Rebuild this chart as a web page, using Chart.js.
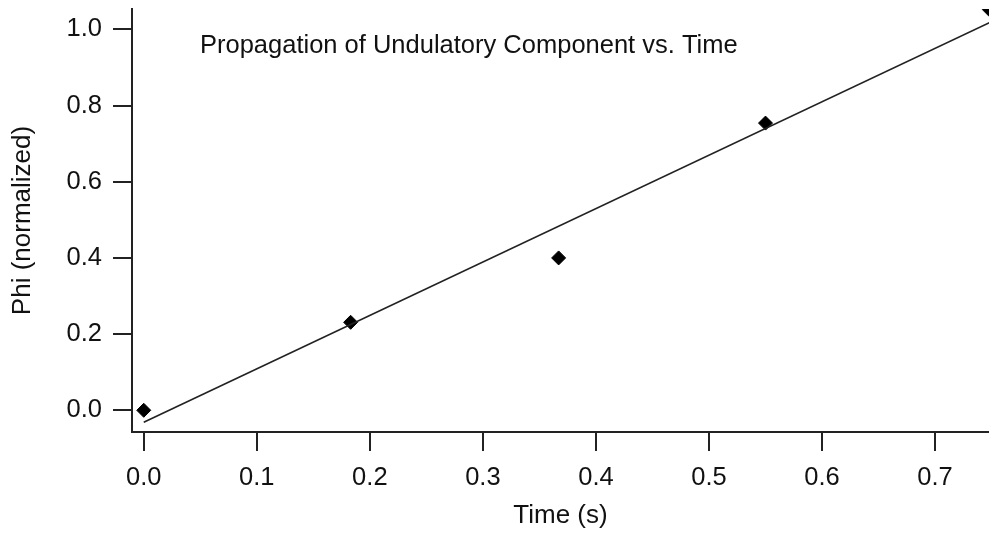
<!DOCTYPE html>
<html>
<head>
<meta charset="utf-8">
<script src="https://cdn.jsdelivr.net/npm/chart.js@4"></script>
<style>
    body { margin: 0; background: #fff; }
    #wrap { width: 989px; height: 533px; }
</style>
</head>
<body>
<div id="wrap"><canvas id="phiChart" width="989" height="533"></canvas></div>
<script>
// measured points (time in s, phi normalized)
const timeValues = [0, 0.183, 0.367, 0.55, 0.748];
const phiValues = [0, 0.231, 0.4, 0.754, 1.052];

// linear fit line, end points
const fitTime = [0, 0.75];
const fitPhi = [-0.0315, 1.02];

const xTicks = [0, 0.1, 0.2, 0.3, 0.4, 0.5, 0.6, 0.7];
const yTicks = [0, 0.2, 0.4, 0.6, 0.8, 1.0];

const plotTitle = 'Propagation of Undulatory Component vs. Time';
const fontFamily = '"Liberation Sans", Arial, sans-serif';
const ink = '#111';

// caption drawn inside the plot area
const captionPlugin = {
    id: 'caption',
    afterDraw(chart) {
        const { ctx, chartArea } = chart;
        ctx.save();
        ctx.font = '25.5px ' + fontFamily;
        ctx.fillStyle = ink;
        ctx.textAlign = 'left';
        ctx.textBaseline = 'alphabetic';
        ctx.fillText(plotTitle, chartArea.left + 68, chartArea.top + 44);
        ctx.restore();
    },
};

const ctx = document.querySelector('#phiChart');
new Chart(ctx, {
    type: 'scatter',
    data: {
        datasets: [
            {
                label: 'fit',
                data: fitTime.map((t, i) => ({ x: t, y: fitPhi[i] })),
                showLine: true,
                borderColor: '#222',
                borderWidth: 1.6,
                pointRadius: 0,
                fill: false,
            },
            {
                label: 'Phi',
                data: timeValues.map((t, i) => ({ x: t, y: phiValues[i] })),
                pointStyle: 'rectRot',
                pointRadius: 7,
                backgroundColor: '#000',
                borderColor: '#000',
                borderWidth: 1,
            },
        ],
    },
    options: {
        responsive: false,
        animation: false,
        layout: { autoPadding: false, padding: { top: 9, right: 0, bottom: 0, left: 0 } },
        plugins: {
            legend: { display: false },
            tooltip: { enabled: false },
        },
        scales: {
            x: {
                type: 'linear',
                min: -0.0104,
                max: 0.7477,
                afterBuildTicks: scale => {
                    scale.ticks = xTicks.map(v => ({ value: v }));
                },
                afterFit: scale => {
                    scale.height = 101;
                    scale.paddingLeft = 0;
                    scale.paddingRight = 0;
                },
                grid: { drawOnChartArea: false, drawTicks: true, tickLength: 19, color: '#222', lineWidth: 2 },
                border: { display: true, color: '#222', width: 2 },
                ticks: {
                    color: ink,
                    padding: 12,
                    maxRotation: 0,
                    font: { family: fontFamily, size: 25.5 },
                    callback: v => v.toFixed(1),
                },
                title: {
                    display: true,
                    text: 'Time (s)',
                    color: ink,
                    font: { family: fontFamily, size: 26 },
                    padding: { top: 0, bottom: 2 },
                },
            },
            y: {
                type: 'linear',
                min: -0.057,
                max: 1.0535,
                afterBuildTicks: scale => {
                    scale.ticks = yTicks.map(v => ({ value: v }));
                },
                afterFit: scale => {
                    scale.width = 132;
                    scale.paddingTop = 0;
                    scale.paddingBottom = 0;
                },
                grid: { drawOnChartArea: false, drawTicks: true, tickLength: 19, color: '#222', lineWidth: 2 },
                border: { display: true, color: '#222', width: 2 },
                ticks: {
                    color: ink,
                    padding: 11,
                    font: { family: fontFamily, size: 25.5 },
                    callback: v => v.toFixed(1),
                },
                title: {
                    display: true,
                    text: 'Phi (normalized)',
                    color: ink,
                    font: { family: fontFamily, size: 26 },
                    padding: { top: 7, bottom: 0 },
                },
            },
        },
    },
    plugins: [captionPlugin],
});
</script>
</body>
</html>
